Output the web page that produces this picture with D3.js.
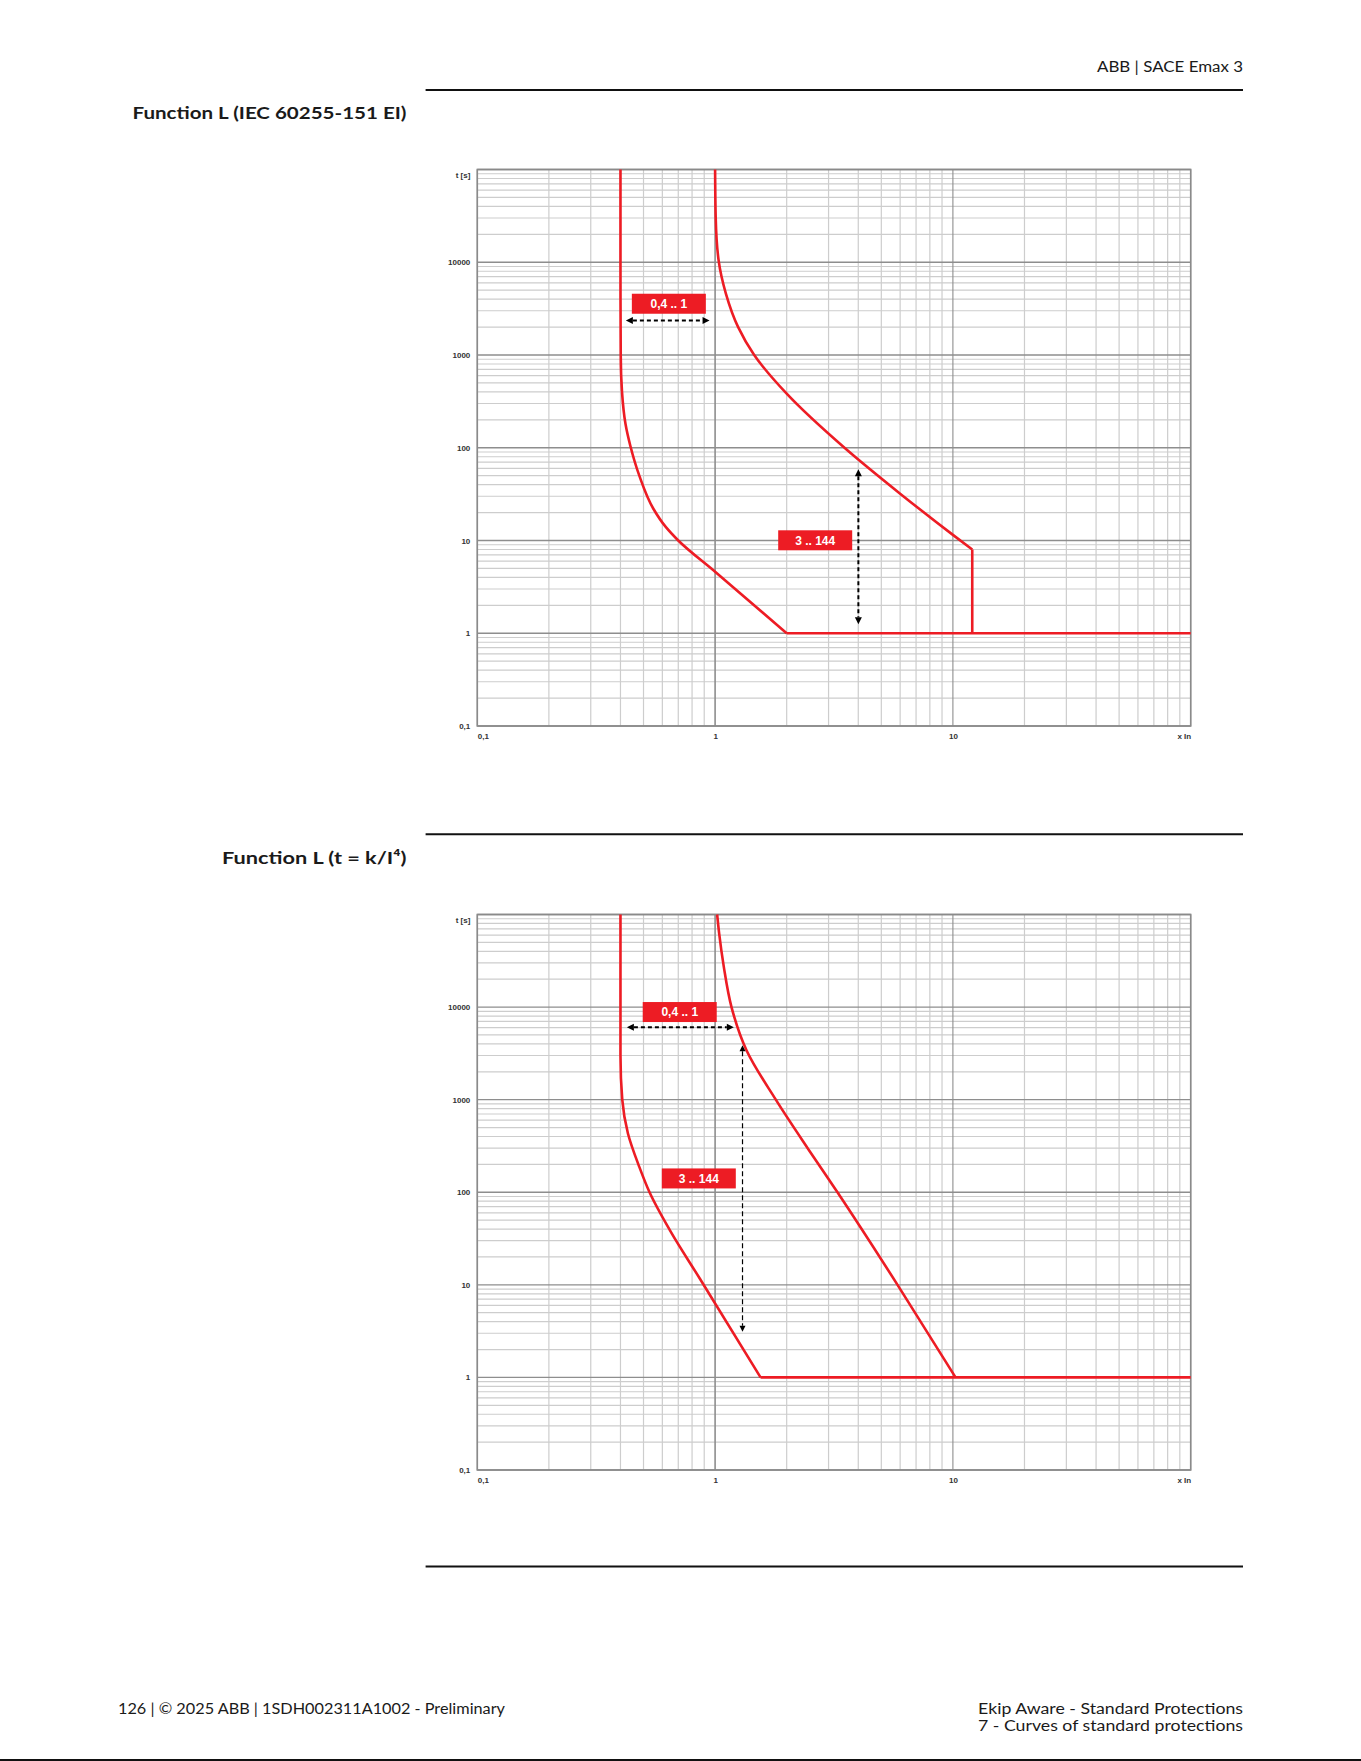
<!DOCTYPE html>
<html>
<head>
<meta charset="utf-8">
<script src="https://cdn.jsdelivr.net/npm/d3@7"></script>
<style>
  html, body { margin: 0; padding: 0; background: #fff; }
  svg { display: block; }
</style>
</head>
<body>
<script>
// ---------------- DATA ----------------
const xDomain = [0.1, 100];
const yDomain = [0.1, 100000];
const xTickValues = [0.1, 1, 10, 100];
const xTickLabels = ["0,1", "1", "10", "x In"];
const yTickValues = [0.1, 1, 10, 100, 1000, 10000, 100000];
const yTickLabels = ["0,1", "1", "10", "100", "1000", "10000", "t [s]"];
const annotationLabels = ["0,4 .. 1", "3 .. 144"];

// Chart 1: Function L (IEC 60255-151 EI)  [x In, t s]
const eiLowCurve  = [[0.400,100000],[0.400,10000],[0.401,1000],[0.406,400],[0.420,180],[0.440,105],[0.480,50],[0.550,22],[0.620,14],[0.700,10],[1.0,4.6],[2.0,1.0]];
const eiLowTail   = [[2.0,1.0],[100,1.0]];
const eiHighCurve = [[1.000,100000],[1.006,30000],[1.035,10400],[1.11,4600],[1.25,2000],[1.46,1000],[2.0,383],[3.5,100],[6.0,32],[10.0,11.5],[12.06,8.0]];
const eiHighTail  = [[12.06,8.0],[12.06,1.0]];
const ch1BoxAnchors = [[0.639,3570],[2.636,10.05]];
const ch1HArrow = [[0.4215,2360],[0.948,2360]];
const ch1VArrow = [[4.004,58.5],[4.004,1.25]];

// Chart 2: Function L (t = k/I^4)
const k4LowCurve  = [[0.400,100000],[0.400,3000],[0.407,1000],[0.430,431],[0.480,188],[0.530,100],[0.645,39],[0.862,11.7],[1.553,1.0]];
const k4LowTail   = [[1.553,1.0],[100,1.0]];
const k4HighCurve = [[1.02,100000],[1.04,62400],[1.088,27200],[1.172,10000],[1.355,3420],[1.80,1000],[2.47,290],[3.27,100],[5.85,10],[10.26,1.0]];
const ch2BoxAnchors = [[0.71,8840],[0.854,141]];
const ch2HArrow = [[0.4257,6070],[1.199,6070]];
const ch2VArrow = [[1.304,3875],[1.304,3.11]];

// ---------------- DRAW ----------------
const W = 1361, H = 1761;
const RED = "#ed1c24";
const svg = d3.select("body").append("svg").attr("width", W).attr("height", H);
svg.append("rect").attr("width", W).attr("height", H).attr("fill", "#fff");

const pageFont = "Lato, 'Open Sans', sans-serif";
function pageText(txt, x, y, size, weight, len) {
  svg.append("text").attr("x", x).attr("y", y)
    .attr("font-family", pageFont).attr("font-size", size).attr("font-weight", weight)
    .attr("fill", "#1a1a1a").attr("textLength", len).attr("lengthAdjust", "spacingAndGlyphs")
    .text(txt);
}
function rule(y, x0, x1, w) {
  svg.append("line").attr("x1", x0).attr("x2", x1).attr("y1", y).attr("y2", y)
    .attr("stroke", "#111").attr("stroke-width", w);
}

pageText("ABB | SACE Emax 3", 1097, 72, 15.5, 400, 146);
rule(90, 425.6, 1243, 2);
pageText("Function L (IEC 60255-151 EI)", 132.5, 118.5, 17.5, 700, 274);
rule(834.3, 425.6, 1243, 2);
pageText("Function L (t = k/I\u2074)", 222, 863.5, 17.5, 700, 184.5);
rule(1566.5, 425.6, 1243, 2);
pageText("126 | \u00A9 2025 ABB | 1SDH002311A1002 - Preliminary", 118, 1713.5, 14.5, 400, 387);
pageText("Ekip Aware - Standard Protections", 978, 1713.5, 14.5, 400, 265);
pageText("7 - Curves of standard protections", 978, 1730.5, 14.5, 400, 265);
rule(1760, 0, W, 2);

const x = d3.scaleLog().domain(xDomain).range([477.3, 1190.7]);
const isDecade = v => Math.abs(Math.log10(v) - Math.round(Math.log10(v))) < 1e-9;

function drawChart(top, bottom, curves, tails, boxAnchors, hArrow, vArrow, vThin) {
  const y = d3.scaleLog().domain(yDomain).range([bottom, top]);
  const g = svg.append("g");
  const [x0, x1] = x.range();

  // minor grid
  const xt = x.ticks(), yt = y.ticks();
  g.append("g").selectAll("line").data(xt.filter(v => !isDecade(v))).join("line")
    .attr("x1", d => x(d)).attr("x2", d => x(d)).attr("y1", top).attr("y2", bottom)
    .attr("stroke", "#cdcdcd").attr("stroke-width", 1.2);
  g.append("g").selectAll("line").data(yt.filter(v => !isDecade(v))).join("line")
    .attr("y1", d => y(d)).attr("y2", d => y(d)).attr("x1", x0).attr("x2", x1)
    .attr("stroke", "#cdcdcd").attr("stroke-width", 1.2);
  // major grid
  g.append("g").selectAll("line").data(xt.filter(isDecade)).join("line")
    .attr("x1", d => x(d)).attr("x2", d => x(d)).attr("y1", top).attr("y2", bottom)
    .attr("stroke", "#8e8e8e").attr("stroke-width", d => d === 1 ? 1.6 : 1.1);
  g.append("g").selectAll("line").data(yt.filter(isDecade)).join("line")
    .attr("y1", d => y(d)).attr("y2", d => y(d)).attr("x1", x0).attr("x2", x1)
    .attr("stroke", "#8e8e8e").attr("stroke-width", 1.3);
  // frame
  g.append("rect").attr("x", x0).attr("y", top).attr("width", x1 - x0).attr("height", bottom - top)
    .attr("fill", "none").attr("stroke", "#8a8a8a").attr("stroke-width", 1.6);

  // axes labels
  const ya = g.append("g").attr("transform", `translate(${x0},0)`)
    .call(d3.axisLeft(y).tickValues(yTickValues).tickFormat((d, i) => yTickLabels[i]).tickSize(0).tickPadding(7));
  ya.select(".domain").remove();
  ya.selectAll("text").attr("font-family", "'Liberation Sans', Arial, sans-serif").attr("font-size", 8)
    .attr("fill", "#333").attr("font-weight", 700);
  ya.selectAll(".tick").filter(d => d === 100000).select("text").attr("dy", "0.95em");

  const xa = g.append("g").attr("transform", `translate(0,${bottom})`)
    .call(d3.axisBottom(x).tickValues(xTickValues).tickFormat((d, i) => xTickLabels[i]).tickSize(0).tickPadding(7));
  xa.select(".domain").remove();
  xa.selectAll("text").attr("font-family", "'Liberation Sans', Arial, sans-serif").attr("font-size", 8)
    .attr("fill", "#333").attr("font-weight", 700);
  xa.selectAll(".tick").filter(d => d === 0.1).select("text").attr("text-anchor", "start");
  xa.selectAll(".tick").filter(d => d === 100).select("text").attr("text-anchor", "end");

  // curves
  const smooth = d3.line().x(d => x(d[0])).y(d => y(d[1])).curve(d3.curveMonotoneY);
  const straight = d3.line().x(d => x(d[0])).y(d => y(d[1]));
  curves.forEach(c => g.append("path").attr("d", smooth(c)).attr("fill", "none")
    .attr("stroke", RED).attr("stroke-width", 2.6));
  tails.forEach(c => g.append("path").attr("d", straight(c)).attr("fill", "none")
    .attr("stroke", RED).attr("stroke-width", 2.6).attr("stroke-linejoin", "miter"));

  // arrows
  function arrow(pts, sw, dash, headL, headW) {
    const p0 = [x(pts[0][0]), y(pts[0][1])], p1 = [x(pts[1][0]), y(pts[1][1])];
    const dx = p1[0] - p0[0], dy = p1[1] - p0[1], len = Math.hypot(dx, dy);
    const ux = dx / len, uy = dy / len;
    g.append("line").attr("x1", p0[0] + ux * headL).attr("y1", p0[1] + uy * headL)
      .attr("x2", p1[0] - ux * headL).attr("y2", p1[1] - uy * headL)
      .attr("stroke", "#000").attr("stroke-width", sw).attr("stroke-dasharray", dash);
    [[p0, -1], [p1, 1]].forEach(([p, s]) => {
      const bx = p[0] - s * ux * headL, by = p[1] - s * uy * headL;
      const nx = -uy * headW / 2, ny = ux * headW / 2;
      g.append("path").attr("d", `M${p[0]},${p[1]}L${bx + nx},${by + ny}L${bx - nx},${by - ny}Z`).attr("fill", "#000");
    });
  }
  arrow(hArrow, 2, "4,3", 7, 7);
  if (vThin) arrow(vArrow, 1.2, "5,3", 6, 6);
  else arrow(vArrow, 2, "4,3", 7, 7);

  // label boxes
  boxAnchors.forEach((a, i) => {
    const cx = x(a[0]), cy = y(a[1]);
    g.append("rect").attr("x", cx - 37).attr("y", cy - 10).attr("width", 74).attr("height", 20).attr("fill", RED);
    g.append("text").attr("x", cx).attr("y", cy).attr("dy", "0.36em").attr("text-anchor", "middle")
      .attr("font-family", "'Liberation Sans', Arial, sans-serif").attr("font-size", 12).attr("font-weight", 700)
      .attr("fill", "#fff").text(annotationLabels[i]);
  });
}

drawChart(169.5, 726, [eiLowCurve, eiHighCurve], [eiLowTail, eiHighTail], ch1BoxAnchors, ch1HArrow, ch1VArrow, false);
drawChart(914.5, 1470, [k4LowCurve, k4HighCurve], [k4LowTail], ch2BoxAnchors, ch2HArrow, ch2VArrow, true);
</script>
</body>
</html>
